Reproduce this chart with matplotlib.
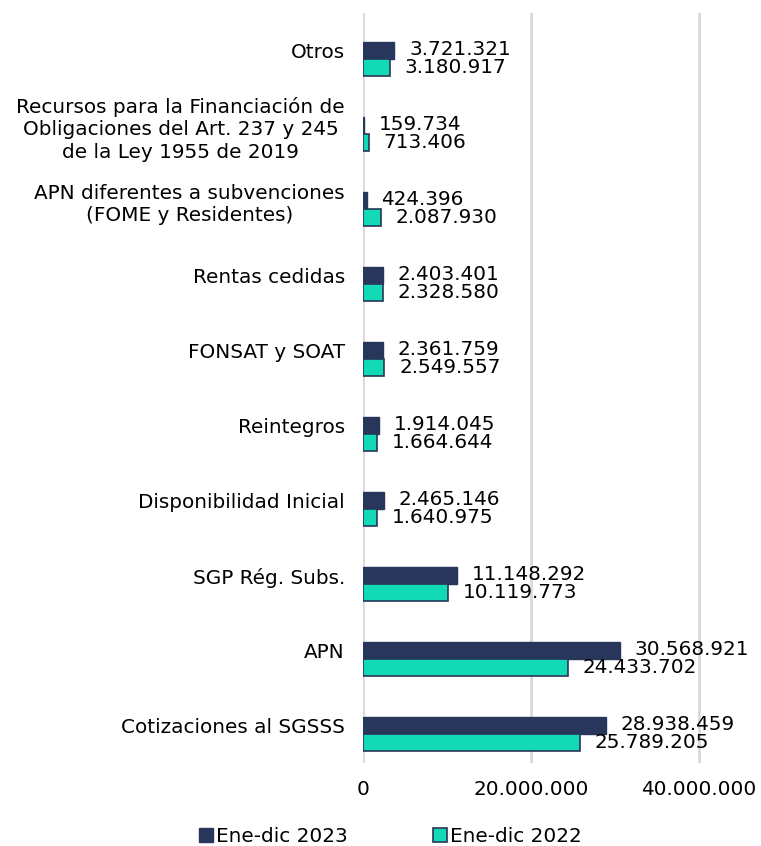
import matplotlib
matplotlib.use("Agg")
import matplotlib.pyplot as plt
from matplotlib.patches import Patch

categories = [
    "Cotizaciones al SGSSS",
    "APN",
    "SGP Rég. Subs.",
    "Disponibilidad Inicial",
    "Reintegros",
    "FONSAT y SOAT",
    "Rentas cedidas",
    "APN diferentes a subvenciones\n(FOME y Residentes)",
    "Recursos para la Financiación de\nObligaciones del Art. 237 y 245\nde la Ley 1955 de 2019",
    "Otros",
]
v2023 = [28938459, 30568921, 11148292, 2465146, 1914045, 2361759, 2403401, 424396, 159734, 3721321]
v2022 = [25789205, 24433702, 10119773, 1640975, 1664644, 2549557, 2328580, 2087930, 713406, 3180917]
series_names = ["Ene-dic 2023", "Ene-dic 2022"]
xticks = [0, 20000000, 40000000]

def fmt(v):
    return f"{v:,}".replace(",", ".")

navy = "#27365A"
teal = "#12D9B6"
fs = 14.4

plt.rcParams["font.family"] = ["DejaVu Sans"]
fig = plt.figure(figsize=(7.61, 8.46), dpi=100)
ax = fig.add_axes([363/761, 1-763/846, (741-363)/761, (763-13)/846])

y = list(range(len(categories)))
h = 0.227
y23 = [c + 0.005 for c in y]
y22 = [c - 0.222 for c in y]
ax.barh(y23, v2023, height=h, color=navy, edgecolor=navy, linewidth=1, zorder=3)
ax.barh(y22, v2022, height=h, color=teal, edgecolor=navy, linewidth=1.2, zorder=3)

off = 1750000
for yy, v in zip(y23, v2023):
    ax.text(v + off, yy + 0.01, fmt(v), va="center", ha="left", fontsize=fs, color="black")
for yy, v in zip(y22, v2022):
    ax.text(v + off, yy - 0.01, fmt(v), va="center", ha="left", fontsize=fs, color="black")

ax.set_xlim(0, 45000000)
ax.set_ylim(-0.5, len(categories) - 0.5)
ax.set_xticks(xticks)
ax.set_xticklabels([fmt(t) for t in xticks], fontsize=fs)
ax.set_yticks(y)
ax.set_yticklabels(categories, fontsize=fs, multialignment="center", linespacing=1.26)
ax.tick_params(axis="y", length=0, pad=13)
ax.tick_params(axis="x", length=0, pad=12)
for s in ax.spines.values():
    s.set_visible(False)
ax.grid(axis="x", color="#D9D9D9", linewidth=2, zorder=0)
ax.set_axisbelow(True)

handles = [Patch(facecolor=navy, edgecolor=navy), Patch(facecolor=teal, edgecolor=navy, linewidth=1.2)]
fig.legend(handles, series_names, loc="center", bbox_to_anchor=(0.513, 1-836/846), ncol=2,
           frameon=False, fontsize=fs, handlelength=0.7, handleheight=0.7, handletextpad=0.15,
           columnspacing=4.3)

fig.savefig("out.png", dpi=100)
